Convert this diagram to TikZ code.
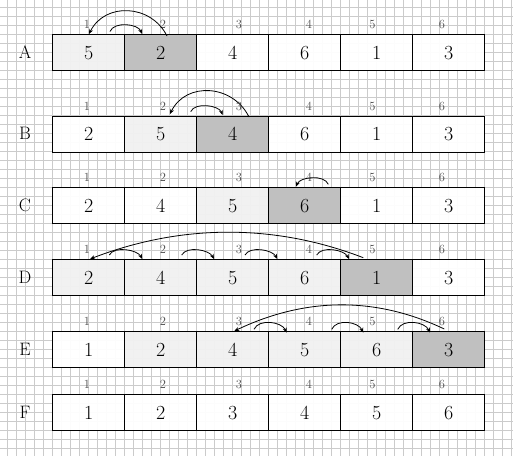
\documentclass[tikz,border=0pt]{standalone}
\usetikzlibrary{arrows.meta}
\definecolor{gridc}{RGB}{203,203,203}
\definecolor{lightc}{RGB}{241,241,241}
\definecolor{darkc}{RGB}{192,192,192}
\definecolor{idxc}{RGB}{75,75,75}
\begin{document}
\begin{tikzpicture}[x=1pt,y=-1pt,
  cellbox/.style={draw=black,line width=1.3pt,minimum width=72pt,minimum height=36pt,inner sep=0pt,anchor=north west,font=\fontsize{20}{20}\selectfont,fill opacity=0.96,text opacity=1,draw opacity=1},
  cw/.style={cellbox,fill=white},
  cl/.style={cellbox,fill=lightc},
  cd/.style={cellbox,fill=darkc,fill opacity=1},
  rowlab/.style={font=\fontsize{18}{18}\selectfont,inner sep=0pt},
  idx/.style={text=idxc,font=\fontsize{12.5}{12.5}\selectfont,inner sep=0pt},
  gridline/.style={draw=gridc,line width=0.7pt},
  arr/.style={draw=black,line width=0.8pt,-{Stealth[length=5pt,width=4pt]}}]
\useasboundingbox (0,0) rectangle (513,456);
\fill[white] (0,0) rectangle (513,456);
\foreach \k in {0,...,56} \draw[gridline] ({7+9*\k},0) -- ({7+9*\k},456);
\foreach \k in {0,...,49} \draw[gridline] (0,{7+9*\k}) -- (513,{7+9*\k});

% row letters
\node[rowlab] (lA) at (25,52) {A};
\node[rowlab] (lB) at (25,133.5) {B};
\node[rowlab] (lC) at (25,205) {C};
\node[rowlab] (lD) at (25,277) {D};
\node[rowlab] (lE) at (25,349) {E};
\node[rowlab] (lF) at (25,412) {F};

% index labels
\foreach \r/\y in {A/24.5,B/106,C/177.5,D/249.5,E/321.5,F/384.5}{
  \node[idx] (i\r1) at (87,\y) {1};
  \node[idx] (i\r2) at (163,\y) {2};
  \node[idx] (i\r3) at (239,\y) {3};
  \node[idx] (i\r4) at (309,\y) {4};
  \node[idx] (i\r5) at (372.5,\y) {5};
  \node[idx] (i\r6) at (442,\y) {6};
}

% row A
\node[cl] (A1) at (52,34) {5};
\node[cd] (A2) at (124,34) {2};
\node[cw] (A3) at (196,34) {4};
\node[cw] (A4) at (268,34) {6};
\node[cw] (A5) at (340,34) {1};
\node[cw] (A6) at (412,34) {3};
% row B
\node[cw] (B1) at (52,115.5) {2};
\node[cl] (B2) at (124,115.5) {5};
\node[cd] (B3) at (196,115.5) {4};
\node[cw] (B4) at (268,115.5) {6};
\node[cw] (B5) at (340,115.5) {1};
\node[cw] (B6) at (412,115.5) {3};
% row C
\node[cw] (C1) at (52,187) {2};
\node[cw] (C2) at (124,187) {4};
\node[cl] (C3) at (196,187) {5};
\node[cd] (C4) at (268,187) {6};
\node[cw] (C5) at (340,187) {1};
\node[cw] (C6) at (412,187) {3};
% row D
\node[cl] (D1) at (52,259) {2};
\node[cl] (D2) at (124,259) {4};
\node[cl] (D3) at (196,259) {5};
\node[cl] (D4) at (268,259) {6};
\node[cd] (D5) at (340,259) {1};
\node[cw] (D6) at (412,259) {3};
% row E
\node[cw] (E1) at (52,331) {1};
\node[cl] (E2) at (124,331) {2};
\node[cl] (E3) at (196,331) {4};
\node[cl] (E4) at (268,331) {5};
\node[cl] (E5) at (340,331) {6};
\node[cd] (E6) at (412,331) {3};
% row F
\node[cw] (F1) at (52,394) {1};
\node[cw] (F2) at (124,394) {2};
\node[cw] (F3) at (196,394) {3};
\node[cw] (F4) at (268,394) {4};
\node[cw] (F5) at (340,394) {5};
\node[cw] (F6) at (412,394) {6};

% arrow end points
\coordinate (aAbs) at (167,36);   \coordinate (aAbe) at (89,34);
\coordinate (aAss) at (110,31.5); \coordinate (aAse) at (142,34);
\coordinate (aBbs) at (249,117);  \coordinate (aBbe) at (170,114);
\coordinate (aBss) at (190.7,111.7); \coordinate (aBse) at (222.7,115);
\coordinate (aCs) at (328.3,184.3); \coordinate (aCe) at (296,186.7);
\coordinate (aDbs) at (363.3,257.7); \coordinate (aDbe) at (90,259);
\coordinate (aD1s) at (109.3,255); \coordinate (aD1e) at (142.3,259);
\coordinate (aD2s) at (181.7,255); \coordinate (aD2e) at (214,259);
\coordinate (aD3s) at (245,255);   \coordinate (aD3e) at (277.3,259);
\coordinate (aD4s) at (316.7,255); \coordinate (aD4e) at (349,259);
\coordinate (aEbs) at (444.3,329); \coordinate (aEbe) at (234.3,331);
\coordinate (aE1s) at (254,329.3); \coordinate (aE1e) at (286.7,332.7);
\coordinate (aE2s) at (331.7,329.3); \coordinate (aE2e) at (363.3,332.7);
\coordinate (aE3s) at (397.7,329.3); \coordinate (aE3e) at (430,332.7);

% arrows
\draw[arr] (aAbs) .. controls (151,4) and (105,2) .. (aAbe);
\draw[arr] (aAss) .. controls (114,21.2) and (138,23.7) .. (aAse);
\draw[arr] (aBbs) .. controls (233,84.3) and (186,81.3) .. (aBbe);
\draw[arr] (aBss) .. controls (194.7,101.9) and (218.7,105.2) .. (aBse);
\draw[arr] (aCs) .. controls (324.3,174.3) and (300,176.7) .. (aCe);
\draw[arr] (aDbs) .. controls (273.3,223) and (180,224.3) .. (aDbe);
\draw[arr] (aD1s) .. controls (114.3,245.7) and (137.3,249.7) .. (aD1e);
\draw[arr] (aD2s) .. controls (186.7,245.7) and (209,249.7) .. (aD2e);
\draw[arr] (aD3s) .. controls (250,245.7) and (272.3,249.7) .. (aD3e);
\draw[arr] (aD4s) .. controls (321.7,245.7) and (344,249.7) .. (aD4e);
\draw[arr] (aEbs) .. controls (374.3,295.7) and (304.3,297.7) .. (aEbe);
\draw[arr] (aE1s) .. controls (259,318.3) and (281.7,321.7) .. (aE1e);
\draw[arr] (aE2s) .. controls (336.7,318.3) and (358.3,321.7) .. (aE2e);
\draw[arr] (aE3s) .. controls (402.7,318.3) and (425,321.7) .. (aE3e);
\end{tikzpicture}
\end{document}
